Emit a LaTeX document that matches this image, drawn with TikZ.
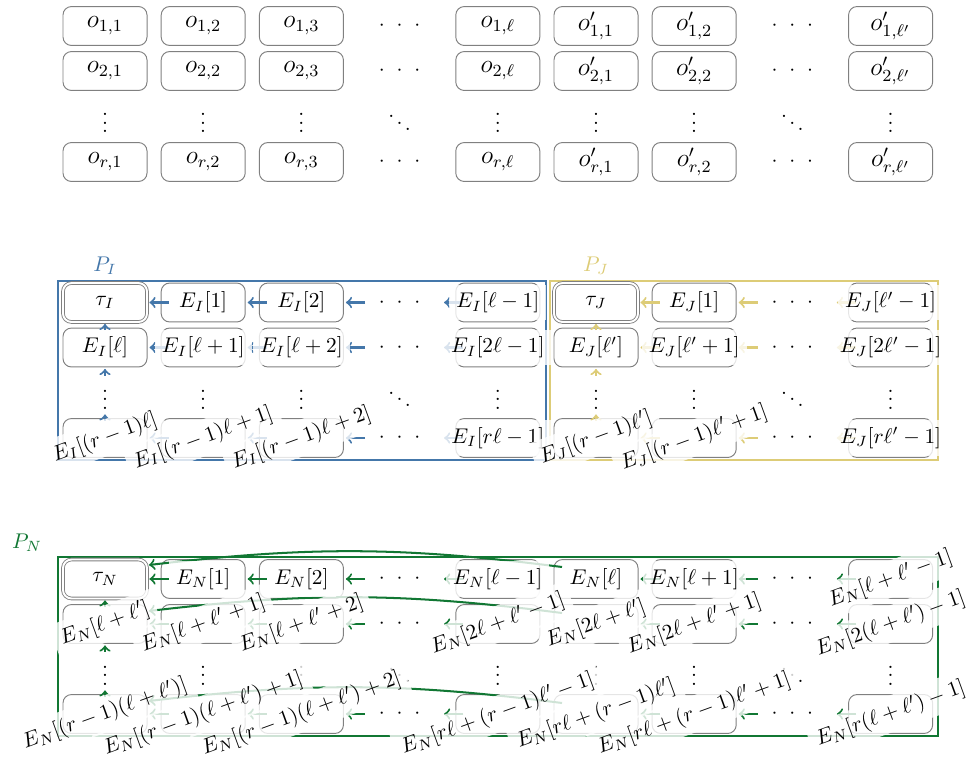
\documentclass[tikz,border=0pt]{standalone}
\definecolor{pblue}{HTML}{4477AA}
\definecolor{psand}{HTML}{DDCC77}
\definecolor{pgreen}{HTML}{117733}
\definecolor{boxgray}{gray}{0.5}
\newcommand{\hd}{$\cdot\ \cdot\ \cdot$}
\tikzset{
  cell/.style={minimum width=39.5pt, minimum height=18.3pt, inner sep=0pt},
  box/.style={cell, draw=boxgray, rounded corners=4pt, line width=0.45pt},
  obox/.style={box, font=\large},
  taubox/.style={cell, draw=boxgray, double, double distance=0.9pt, rounded corners=4pt, line width=0.4pt},
  lab/.style={fill=white, fill opacity=0.8, text opacity=1},
  rlab/.style={lab, rotate=20},
  arr/.style={->, line width=0.95pt},
  harr/.style={arr, shorten <=-3.76pt, shorten >=0.94pt},
  varr/.style={arr, shorten <=-1.18pt, shorten >=0.7pt},
  frame/.style={line width=0.95pt},
}
\begin{document}
\begin{tikzpicture}[x=0.47pt, y=0.47pt]
\useasboundingbox (0,0) rectangle (970,-759);
% ---------------- top grid
\foreach \r/\y/\s in {1/26/1,2/71/2,4/162/r}{
  \node[obox] (o-\r-1) at (105,-\y) {$o_{\s,1}$};
  \node[obox] (o-\r-2) at (203.2,-\y) {$o_{\s,2}$};
  \node[obox] (o-\r-3) at (301.4,-\y) {$o_{\s,3}$};
  \node[cell] (o-\r-4) at (399.6,-\y) {\hd};
  \node[obox] (o-\r-5) at (497.8,-\y) {$o_{\s,\ell}$};
  \node[obox] (o-\r-6) at (596,-\y) {$o'_{\s,1}$};
  \node[obox] (o-\r-7) at (694.2,-\y) {$o'_{\s,2}$};
  \node[cell] (o-\r-8) at (792.4,-\y) {\hd};
  \node[obox] (o-\r-9) at (890.6,-\y) {$o'_{\s,\ell'}$};
}
\foreach \c/\x in {1/105,2/203.2,3/301.4,5/497.8,6/596,7/694.2,9/890.6}
  \node[cell] (o-3-\c) at (\x,-116.5) {$\vdots$};
\node[cell] (o-3-4) at (399.6,-116.5) {$\ddots$};
\node[cell] (o-3-8) at (792.4,-116.5) {$\ddots$};

% ---------------- frames
\draw[frame, pblue] (58,-281) rectangle (546,-460);
\draw[frame, psand] (550,-281) rectangle (938,-460);
\draw[frame, pgreen] (58,-557) rectangle (938,-736);
\node[text=pblue] (PI) at (105,-266) {$P_I$};
\node[text=psand] (PJ) at (596,-266) {$P_J$};
\node[text=pgreen] (PN) at (27,-543) {$P_N$};

% ---------------- P_I cells
\node[taubox] (I-1-1) at (105,-302.5) {};
\node[box] (I-1-2) at (203.2,-302.5) {};
\node[box] (I-1-3) at (301.4,-302.5) {};
\node[cell] (I-1-4) at (399.6,-302.5) {\hd};
\node[box] (I-1-5) at (497.8,-302.5) {};
\node[box] (I-2-1) at (105,-347.5) {};
\node[box] (I-2-2) at (203.2,-347.5) {};
\node[box] (I-2-3) at (301.4,-347.5) {};
\node[cell] (I-2-4) at (399.6,-347.5) {\hd};
\node[box] (I-2-5) at (497.8,-347.5) {};
\node[cell] (I-3-1) at (105,-393) {$\vdots$};
\node[cell] (I-3-2) at (203.2,-393) {$\vdots$};
\node[cell] (I-3-3) at (301.4,-393) {$\vdots$};
\node[cell] (I-3-4) at (399.6,-393) {$\ddots$};
\node[cell] (I-3-5) at (497.8,-393) {$\vdots$};
\node[box] (I-4-1) at (105,-438) {};
\node[box] (I-4-2) at (203.2,-438) {};
\node[box] (I-4-3) at (301.4,-438) {};
\node[cell] (I-4-4) at (399.6,-438) {\hd};
\node[box] (I-4-5) at (497.8,-438) {};

% ---------------- P_J cells
\node[taubox] (J-1-6) at (596,-302.5) {};
\node[box] (J-1-7) at (694.2,-302.5) {};
\node[cell] (J-1-8) at (792.4,-302.5) {\hd};
\node[box] (J-1-9) at (890.6,-302.5) {};
\node[box] (J-2-6) at (596,-347.5) {};
\node[box] (J-2-7) at (694.2,-347.5) {};
\node[cell] (J-2-8) at (792.4,-347.5) {\hd};
\node[box] (J-2-9) at (890.6,-347.5) {};
\node[cell] (J-3-6) at (596,-393) {$\vdots$};
\node[cell] (J-3-7) at (694.2,-393) {$\vdots$};
\node[cell] (J-3-8) at (792.4,-393) {$\ddots$};
\node[cell] (J-3-9) at (890.6,-393) {$\vdots$};
\node[box] (J-4-6) at (596,-438) {};
\node[box] (J-4-7) at (694.2,-438) {};
\node[cell] (J-4-8) at (792.4,-438) {\hd};
\node[box] (J-4-9) at (890.6,-438) {};

% ---------------- P_N cells
\node[taubox] (N-1-1) at (105,-579) {};
\foreach \c/\x in {2/203.2,3/301.4,5/497.8,6/596,7/694.2,9/890.6}
  \node[box] (N-1-\c) at (\x,-579) {};
\node[cell] (N-1-4) at (399.6,-579) {\hd};
\node[cell] (N-1-8) at (792.4,-579) {\hd};
\foreach \c/\x in {1/105,2/203.2,3/301.4,5/497.8,6/596,7/694.2,9/890.6}{
  \node[box] (N-2-\c) at (\x,-624) {};
  \node[cell] (N-3-\c) at (\x,-669) {$\vdots$};
  \node[box] (N-4-\c) at (\x,-714) {};
}
\node[cell] (N-2-4) at (399.6,-624) {\hd};
\node[cell] (N-2-8) at (792.4,-624) {\hd};
\node[cell] (N-3-4) at (399.6,-669) {$\ddots$};
\node[cell] (N-3-8) at (792.4,-669) {$\ddots$};
\node[cell] (N-4-4) at (399.6,-714) {\hd};
\node[cell] (N-4-8) at (792.4,-714) {\hd};

% ---------------- arrows P_I
\begin{scope}[pblue]
\foreach \r in {1,2,4}
  \foreach \a/\b in {2/1,3/2,4/3,5/4}
    \draw[harr] (I-\r-\a.west) -- (I-\r-\b.east);
\draw[varr] (I-2-1.north) -- (I-1-1.south);
\draw[varr] (I-3-1.north) -- (I-2-1.south);
\draw[varr] (I-4-1.north) -- (I-3-1.south);
\end{scope}
% ---------------- arrows P_J
\begin{scope}[psand]
\foreach \r in {1,2,4}
  \foreach \a/\b in {7/6,8/7,9/8}
    \draw[harr] (J-\r-\a.west) -- (J-\r-\b.east);
\draw[varr] (J-2-6.north) -- (J-1-6.south);
\draw[varr] (J-3-6.north) -- (J-2-6.south);
\draw[varr] (J-4-6.north) -- (J-3-6.south);
\end{scope}
% ---------------- arrows P_N
\begin{scope}[pgreen]
\foreach \r in {1,2,4}
  \foreach \a/\b in {2/1,3/2,4/3,5/4,7/6,8/7,9/8}
    \draw[harr] (N-\r-\a.west) -- (N-\r-\b.east);
\draw[varr] (N-2-1.north) -- (N-1-1.south);
\draw[varr] (N-3-1.north) -- (N-2-1.south);
\draw[varr] (N-4-1.north) -- (N-3-1.south);
\draw[arr] ([shift={(-34,12)}]N-1-6.center) to[bend right=7] ([shift={(44,14)}]N-1-1.center);
\draw[arr] ([shift={(-34,11)}]N-2-6.center) to[bend right=7] ([shift={(44,13)}]N-2-1.center);
\draw[arr] ([shift={(-34,11)}]N-4-6.center) to[bend right=7] ([shift={(44,13)}]N-4-1.center);
\end{scope}

% ---------------- labels P_I
\node[lab] (I-1-1-t) at (I-1-1) {$\tau_I$};
\node[lab] (I-1-2-t) at (I-1-2) {$E_I[1]$};
\node[lab] (I-1-3-t) at (I-1-3) {$E_I[2]$};
\node[lab] (I-1-5-t) at (I-1-5) {$E_I[\ell-1]$};
\node[lab] (I-2-1-t) at (I-2-1) {$E_I[\ell]$};
\node[lab] (I-2-2-t) at (I-2-2) {$E_I[\ell+1]$};
\node[lab] (I-2-3-t) at (I-2-3) {$E_I[\ell+2]$};
\node[lab] (I-2-5-t) at (I-2-5) {$E_I[2\ell-1]$};
\node[rlab] (I-4-1-t) at (I-4-1) {$E_I[(r-1)\ell]$};
\node[rlab] (I-4-2-t) at (I-4-2) {$E_I[(r-1)\ell+1]$};
\node[rlab] (I-4-3-t) at (I-4-3) {$E_I[(r-1)\ell+2]$};
\node[lab] (I-4-5-t) at (I-4-5) {$E_I[r\ell-1]$};
% ---------------- labels P_J
\node[lab] (J-1-6-t) at (J-1-6) {$\tau_J$};
\node[lab] (J-1-7-t) at (J-1-7) {$E_J[1]$};
\node[lab] (J-1-9-t) at (J-1-9) {$E_J[\ell'-1]$};
\node[lab] (J-2-6-t) at (J-2-6) {$E_J[\ell']$};
\node[lab] (J-2-7-t) at (J-2-7) {$E_J[\ell'+1]$};
\node[lab] (J-2-9-t) at (J-2-9) {$E_J[2\ell'-1]$};
\node[rlab] (J-4-6-t) at (J-4-6) {$E_J[(r-1)\ell']$};
\node[rlab] (J-4-7-t) at (J-4-7) {$E_J[(r-1)\ell'+1]$};
\node[lab] (J-4-9-t) at (J-4-9) {$E_J[r\ell'-1]$};
% ---------------- labels P_N
\node[lab] (N-1-1-t) at (N-1-1) {$\tau_N$};
\node[lab] (N-1-2-t) at (N-1-2) {$E_N[1]$};
\node[lab] (N-1-3-t) at (N-1-3) {$E_N[2]$};
\node[lab] (N-1-5-t) at (N-1-5) {$E_N[\ell-1]$};
\node[lab] (N-1-6-t) at (N-1-6) {$E_N[\ell]$};
\node[lab] (N-1-7-t) at (N-1-7) {$E_N[\ell+1]$};
\node[rlab] (N-1-9-t) at (N-1-9) {$E_N[\ell+\ell'-1]$};
\node[rlab] (N-2-1-t) at (N-2-1) {$E_N[\ell+\ell']$};
\node[rlab] (N-2-2-t) at (N-2-2) {$E_N[\ell+\ell'+1]$};
\node[rlab] (N-2-3-t) at (N-2-3) {$E_N[\ell+\ell'+2]$};
\node[rlab] (N-2-5-t) at (N-2-5) {$E_N[2\ell+\ell'-1]$};
\node[rlab] (N-2-6-t) at (N-2-6) {$E_N[2\ell+\ell']$};
\node[rlab] (N-2-7-t) at (N-2-7) {$E_N[2\ell+\ell'+1]$};
\node[rlab] (N-2-9-t) at (N-2-9) {$E_N[2(\ell+\ell')-1]$};
\node[rlab] (N-4-1-t) at (N-4-1) {$E_N[(r-1)(\ell+\ell')]$};
\node[rlab] (N-4-2-t) at (N-4-2) {$E_N[(r-1)(\ell+\ell')+1]$};
\node[rlab] (N-4-3-t) at (N-4-3) {$E_N[(r-1)(\ell+\ell')+2]$};
\node[rlab] (N-4-5-t) at (N-4-5) {$E_N[r\ell+(r-1)\ell'-1]$};
\node[rlab] (N-4-6-t) at (N-4-6) {$E_N[r\ell+(r-1)\ell']$};
\node[rlab] (N-4-7-t) at (N-4-7) {$E_N[r\ell+(r-1)\ell'+1]$};
\node[rlab] (N-4-9-t) at (N-4-9) {$E_N[r(\ell+\ell')-1]$};
\end{tikzpicture}
\end{document}
